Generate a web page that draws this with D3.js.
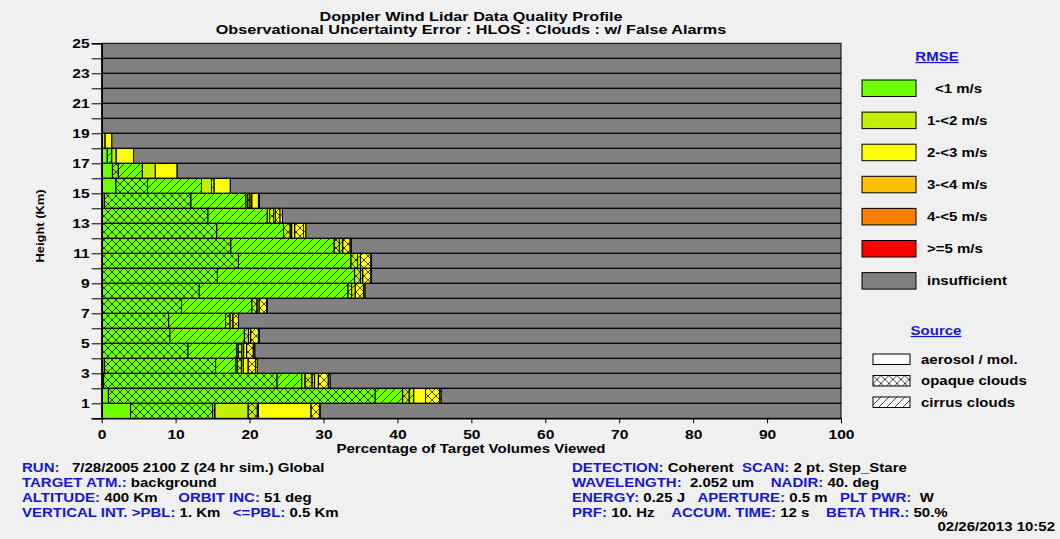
<!DOCTYPE html>
<html>
<head>
<meta charset="utf-8">
<script src="https://cdn.jsdelivr.net/npm/d3@7"></script>
<style>
  html, body { margin: 0; padding: 0; background: #f0f0f0; }
  svg { display: block; font-family: "Liberation Sans", Arial, sans-serif; }
  .pre { white-space: pre; }
</style>
</head>
<body>
<svg id="chart" width="1060" height="539"></svg>
<script>
// Layer bottoms (km) for the profile rows; layers above 19 km are all "insufficient".
const layerBottoms = [0,1,2,3,4,5,6,7,8,9,10,11,12,13,14,15,16,17,18,19,20,21,22,23,24];

// Percent of target volumes per layer (index = layer bottom km), by RMSE class and source.
const lt1Aerosol  = [3.9, 0.9, 0.25, 0.35, 0, 0, 0, 0, 0, 0, 0, 0, 0, 0, 0.35, 1.9, 1.45, 0.75, 0];
const lt1Opaque   = [11.1, 36.1, 23.45, 15.05, 11.65, 9.2, 9.05, 10.8, 13.2, 15.65, 18.5, 17.45, 15.55, 14.35, 11.7, 4.3, 0.8, 0, 0];
const lt1Cirrus   = [0.3, 3.7, 3.35, 2.75, 6.6, 10.1, 7.7, 9.5, 20.1, 18.55, 15.2, 14.0, 9.05, 8.05, 7.45, 7.3, 3.25, 0.6, 0];
const r12Aerosol  = [4.5, 0, 0.45, 0.2, 0.2, 0, 0, 0, 0, 0, 0, 0, 0, 0.3, 0.25, 1.35, 1.75, 0.6, 0.45];
const r12Opaque   = [1.25, 0.9, 0.95, 0.55, 0.5, 0.55, 0.6, 0.7, 0.5, 0.8, 0.9, 0.7, 0.9, 0.55, 0.3, 0, 0, 0, 0];
const r12Cirrus   = [0.15, 0.6, 0.35, 0.25, 0.25, 0.3, 0.4, 0.3, 0.5, 0.3, 0.4, 0.45, 0.2, 0.25, 0.25, 0.35, 0, 0, 0];
const r23Aerosol  = [7.1, 1.6, 0.5, 0.65, 0.4, 0, 0, 0, 0, 0, 0, 0, 0.4, 0, 0.9, 2.2, 2.95, 2.35, 0.9];
const r23Opaque   = [1.15, 1.9, 1.35, 1.0, 0.9, 1.05, 0.75, 1.0, 1.1, 1.1, 1.4, 1.0, 1.2, 0.6, 0, 0, 0, 0, 0];
const r23Cirrus   = [0.1, 0.2, 0.25, 0.25, 0.2, 0.1, 0, 0.1, 0.2, 0.1, 0.1, 0.15, 0.3, 0.35, 0.1, 0, 0, 0, 0];

// Stacking order: RMSE class first, then source within each class.
const seriesDefs = [
  { key: "lt1_aer", values: lt1Aerosol, cls: "<1 m/s",   src: "aerosol" },
  { key: "lt1_opq", values: lt1Opaque,  cls: "<1 m/s",   src: "opaque" },
  { key: "lt1_cir", values: lt1Cirrus,  cls: "<1 m/s",   src: "cirrus" },
  { key: "r12_aer", values: r12Aerosol, cls: "1-<2 m/s", src: "aerosol" },
  { key: "r12_opq", values: r12Opaque,  cls: "1-<2 m/s", src: "opaque" },
  { key: "r12_cir", values: r12Cirrus,  cls: "1-<2 m/s", src: "cirrus" },
  { key: "r23_aer", values: r23Aerosol, cls: "2-<3 m/s", src: "aerosol" },
  { key: "r23_opq", values: r23Opaque,  cls: "2-<3 m/s", src: "opaque" },
  { key: "r23_cir", values: r23Cirrus,  cls: "2-<3 m/s", src: "cirrus" }
];

// Legend entries
const rmseClasses = ["<1 m/s", "1-<2 m/s", "2-<3 m/s", "3-<4 m/s", "4-<5 m/s", ">=5 m/s", "insufficient"];
const rmseColors  = ["#70ff00", "#c2f000", "#ffff00", "#ffc000", "#ff8000", "#ff0000", "#808080"];
const sourceNames = ["aerosol / mol.", "opaque clouds", "cirrus clouds"];
const sourceKeys  = ["aerosol", "opaque", "cirrus"];

const xTicks = [0,10,20,30,40,50,60,70,80,90,100];
const yTickLabels = [1,3,5,7,9,11,13,15,17,19,21,23,25];

const titleLines = [
  "Doppler Wind Lidar Data Quality Profile",
  "Observational Uncertainty Error : HLOS : Clouds : w/ False Alarms"
];
const xTitle = "Percentage of Target Volumes Viewed";
const yTitle = "Height (Km)";

// Run information: [text, isLabel]
const infoLeft = [
  [["RUN:", 1], ["   7/28/2005 2100 Z (24 hr sim.) Global", 0]],
  [["TARGET ATM.:", 1], [" background", 0]],
  [["ALTITUDE:", 1], [" 400 Km     ", 0], ["ORBIT INC:", 1], [" 51 deg", 0]],
  [["VERTICAL INT. >PBL:", 1], [" 1. Km   ", 0], ["<=PBL:", 1], [" 0.5 Km", 0]]
];
const infoRight = [
  [["DETECTION:", 1], [" Coherent  ", 0], ["SCAN:", 1], [" 2 pt. Step_Stare", 0]],
  [["WAVELENGTH:", 1], ["  2.052 um    ", 0], ["NADIR:", 1], [" 40. deg", 0]],
  [["ENERGY:", 1], [" 0.25 J   ", 0], ["APERTURE:", 1], [" 0.5 m   ", 0], ["PLT PWR:", 1], ["  W", 0]],
  [["PRF:", 1], [" 10. Hz    ", 0], ["ACCUM. TIME:", 1], [" 12 s    ", 0], ["BETA THR.:", 1], [" 50.%", 0]]
];
const stamp = "02/26/2013 10:52";

const blue = "#1616d4";
const WIDE = 1.2;   // the report font is set wide
const svg = d3.select("#chart");

const x = d3.scaleLinear().domain([0, 100]).range([101.7, 841]);
const y = d3.scaleLinear().domain([0, 25]).range([418.3, 43.3]);
const colorOf = d3.scaleOrdinal().domain(rmseClasses).range(rmseColors);

// Place a wide-set text element at (px, py)
function wideText(parent, px, py, size, sx = WIDE) {
  return parent.append("text")
    .attr("transform", `translate(${px},${py}) scale(${sx},1)`)
    .attr("font-size", size).attr("font-weight", "bold");
}

// Hatch patterns for cloud sources
const defs = svg.append("defs");
function hatch(id, paths) {
  const p = defs.append("pattern").attr("id", id)
    .attr("patternUnits", "userSpaceOnUse").attr("width", 8).attr("height", 8);
  paths.forEach(d => p.append("path").attr("d", d)
    .attr("stroke", "#000").attr("stroke-width", 1).attr("stroke-opacity", 0.75).attr("fill", "none"));
}
hatch("pat-cirrus", ["M0,8 L8,0", "M-2,2 L2,-2", "M6,10 L10,6"]);
hatch("pat-opaque", ["M0,8 L8,0", "M-2,2 L2,-2", "M6,10 L10,6", "M0,0 L8,8", "M-2,6 L2,10", "M6,-2 L10,2"]);

// Build stacked rows
const rows = layerBottoms.map((b, i) => {
  const segs = [];
  let x0 = 0;
  seriesDefs.forEach(s => {
    const v = i < s.values.length ? s.values[i] : 0;
    if (v > 0) { segs.push({ b, x0, x1: x0 + v, color: colorOf(s.cls), src: s.src }); x0 += v; }
  });
  segs.push({ b, x0, x1: 100, color: colorOf("insufficient"), src: "aerosol" });
  return segs;
});
const allSegs = rows.flat();

const g = svg.append("g");
g.selectAll("rect.seg").data(allSegs).join("rect").attr("class", "seg")
  .attr("x", d => x(d.x0)).attr("width", d => x(d.x1) - x(d.x0))
  .attr("y", d => y(d.b + 1)).attr("height", d => y(d.b) - y(d.b + 1))
  .attr("fill", d => d.color);
g.selectAll("rect.hat").data(allSegs.filter(d => d.src !== "aerosol")).join("rect").attr("class", "hat")
  .attr("x", d => x(d.x0)).attr("width", d => x(d.x1) - x(d.x0))
  .attr("y", d => y(d.b + 1)).attr("height", d => y(d.b) - y(d.b + 1))
  .attr("fill", d => `url(#pat-${d.src})`);
g.selectAll("rect.edge").data(allSegs).join("rect").attr("class", "edge")
  .attr("x", d => x(d.x0)).attr("width", d => x(d.x1) - x(d.x0))
  .attr("y", d => y(d.b + 1)).attr("height", d => y(d.b) - y(d.b + 1))
  .attr("fill", "none").attr("stroke", "#000").attr("stroke-width", 1);

// Y axis: ticks every km, labels on odd km
const yAxis = d3.axisLeft(y).tickValues(d3.range(0, 26)).tickSize(10)
  .tickFormat(d => yTickLabels.includes(d) ? d : "");
const ya = svg.append("g").attr("transform", `translate(${x(0)},0)`).call(yAxis);
ya.select(".domain").attr("stroke", "#000").attr("stroke-width", 1.5);
ya.selectAll(".tick line").attr("stroke", "#000");
ya.selectAll(".tick text").attr("font-size", 13).attr("font-weight", "bold")
  .attr("font-family", "Liberation Sans, Arial, sans-serif").attr("fill", "#000")
  .attr("x", null).attr("transform", `translate(-12,0) scale(${WIDE},1)`);

// X axis
const xAxis = d3.axisBottom(x).tickValues(xTicks).tickSize(5).tickSizeOuter(0);
const xa = svg.append("g").attr("transform", `translate(0,${y(0)})`).call(xAxis);
xa.select(".domain").attr("stroke", "#000").attr("stroke-width", 1.5);
xa.selectAll(".tick line").attr("stroke", "#000");
xa.selectAll(".tick text").attr("font-size", 13).attr("font-weight", "bold")
  .attr("font-family", "Liberation Sans, Arial, sans-serif").attr("fill", "#000")
  .attr("dy", "0.95em").attr("transform", `scale(${WIDE},1)`);

// Titles
titleLines.forEach((t, i) =>
  wideText(svg, 471, 21 + i * 13, 13.5).attr("text-anchor", "middle").text(t));
wideText(svg, 471, 453, 12.5).attr("text-anchor", "middle").text(xTitle);
svg.append("text").attr("transform", `translate(44,226) rotate(-90) scale(1.12,1)`)
  .attr("text-anchor", "middle").attr("font-size", 11.5).attr("font-weight", "bold").text(yTitle);

// RMSE legend
wideText(svg, 937, 61, 12.5).attr("text-anchor", "middle").attr("fill", blue)
  .attr("text-decoration", "underline").text("RMSE");
const leg = svg.append("g").selectAll("g").data(rmseClasses).join("g")
  .attr("transform", (d, i) => `translate(862,${80 + i * 32.1})`);
leg.append("rect").attr("width", 54).attr("height", 16.5)
  .attr("fill", d => colorOf(d)).attr("stroke", "#000").attr("stroke-width", 1);
leg.each(function(d, i) {
  wideText(d3.select(this), i === 0 ? 73 : 65, 12.5, 12.5).text(d);
});

// Source legend
wideText(svg, 936, 335, 12.5).attr("text-anchor", "middle").attr("fill", blue)
  .attr("text-decoration", "underline").text("Source");
const sleg = svg.append("g").selectAll("g").data(sourceNames).join("g")
  .attr("transform", (d, i) => `translate(873,${354 + i * 21.5})`);
sleg.append("rect").attr("width", 37).attr("height", 10.5).attr("fill", "#fff");
sleg.filter((d, i) => sourceKeys[i] !== "aerosol").append("rect")
  .attr("width", 37).attr("height", 10.5)
  .attr("fill", d => `url(#pat-${sourceKeys[sourceNames.indexOf(d)]})`);
sleg.append("rect").attr("width", 37).attr("height", 10.5).attr("fill", "none").attr("stroke", "#000");
sleg.each(function(d) { wideText(d3.select(this), 48, 9.5, 12.5).text(d); });

// Run information blocks
function infoBlock(lines, x0) {
  lines.forEach((line, i) => {
    const t = wideText(svg, x0, 472 + i * 15, 12.5).attr("class", "pre");
    t.selectAll("tspan").data(line).join("tspan")
      .attr("fill", d => d[1] ? blue : "#000").text(d => d[0]);
  });
}
infoBlock(infoLeft, 22);
infoBlock(infoRight, 572);
wideText(svg, 1055, 531, 12.5).attr("text-anchor", "end").text(stamp);
</script>
</body>
</html>
